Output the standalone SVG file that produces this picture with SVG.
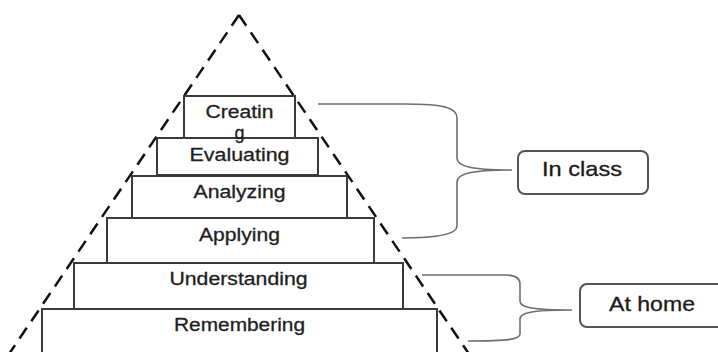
<svg xmlns="http://www.w3.org/2000/svg" width="718" height="352" viewBox="0 0 718 352">
<style>
.step{fill:#fff;stroke:#3a3a3a;stroke-width:2}
.lbl{font-family:"Liberation Sans",Arial,sans-serif;font-size:18px;fill:#1e1e1e;stroke:#1e1e1e;stroke-width:0.3;text-anchor:middle}
.tri{fill:none;stroke:#111;stroke-width:2.5;stroke-dasharray:13 8}
.brace{fill:none;stroke:#6e6e6e;stroke-width:1.6}
.cbox{fill:#fff;stroke:#555;stroke-width:2}
.clbl{font-family:"Liberation Sans",Arial,sans-serif;font-size:21px;fill:#1a1a1a;stroke:#1a1a1a;stroke-width:0.3;text-anchor:middle}
</style>
<rect width="718" height="352" fill="#fff"/>
<g id="pyramid-outline">
<path class="tri" d="M239,15 L9,354 M239,15 L469,354"/>
</g>
<g id="remembering"><rect class="step" x="42" y="309" width="395" height="50"/><text class="lbl" x="239.5" y="331" textLength="131" lengthAdjust="spacingAndGlyphs">Remembering</text></g>
<g id="understanding"><rect class="step" x="74" y="263" width="329" height="46"/><text class="lbl" x="238.5" y="285" textLength="138" lengthAdjust="spacingAndGlyphs">Understanding</text></g>
<g id="applying"><rect class="step" x="107" y="218" width="267" height="45"/><text class="lbl" x="239.5" y="241" textLength="81" lengthAdjust="spacingAndGlyphs">Applying</text></g>
<g id="analyzing"><rect class="step" x="132" y="176" width="215" height="42"/><text class="lbl" x="239.5" y="198" textLength="92" lengthAdjust="spacingAndGlyphs">Analyzing</text></g>
<g id="evaluating"><rect class="step" x="157" y="138" width="161" height="37"/><text class="lbl" x="239.5" y="161" textLength="100" lengthAdjust="spacingAndGlyphs">Evaluating</text></g>
<g id="creating"><rect class="step" x="184" y="96" width="111" height="42"/><text class="lbl" x="239.5" y="118" textLength="68" lengthAdjust="spacingAndGlyphs">Creatin</text><text class="lbl" x="239.5" y="139">g</text></g>
<g id="connectors">
<path class="brace" d="M318,104 L405,104 C445,104 457,108 457,118 L457,158 C457,166 470,170 512,170 M512,170 C470,170 457,174 457,182 L457,226 C457,234 440,238 402,238"/>
<path class="brace" d="M422,275 L505,275 C516,275 520,279 520,284 L520,301 C520,307 530,310 572,310 M572,310 C530,310 520,313 520,319 L520,334 C520,339 510,341 468,341"/>
</g>
<g id="in-class"><rect class="cbox" x="518" y="151" width="130" height="43" rx="7"/><text class="clbl" x="582" y="176" textLength="80" lengthAdjust="spacingAndGlyphs">In class</text></g>
<g id="at-home"><rect class="cbox" x="580" y="284" width="145" height="43" rx="7"/><text class="clbl" x="652" y="311" textLength="86" lengthAdjust="spacingAndGlyphs">At home</text></g>
</svg>
